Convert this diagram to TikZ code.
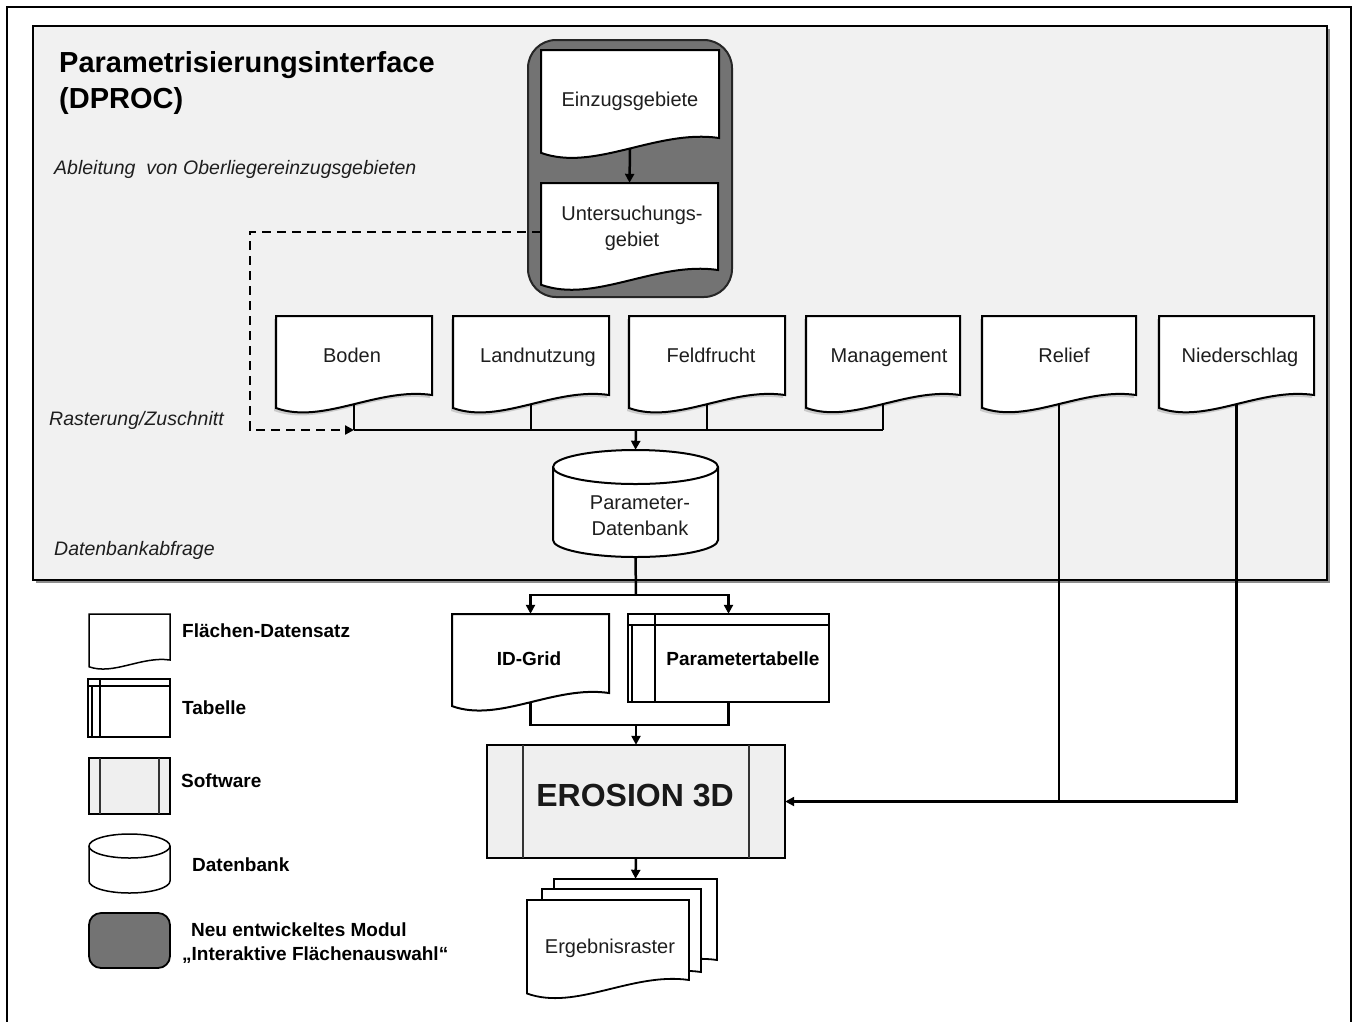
\documentclass[tikz,border=0pt]{standalone}
\usepackage{fontspec}
\setmainfont{Liberation Sans}
\usetikzlibrary{arrows.meta,calc}
\definecolor{panelc}{HTML}{F1F1F1}
\definecolor{modc}{HTML}{737373}
\definecolor{swc}{HTML}{EFEFEF}
\definecolor{txtc}{HTML}{1E1E1E}

% document shape: [opts] x1 x2 ytop yb(right bottom) shadow(0/1)
\newcommand\mydocshape[6][]{%
 \pgfmathsetmacro\dsW{#3-#2}%
 \pgfmathsetmacro\dsS{\dsW/156}%
 \pgfmathsetmacro\dsXa{#2+0.65*\dsW}%
 \pgfmathsetmacro\dsXb{#2+0.30*\dsW}%
 \pgfmathsetmacro\dsYa{#5-8*\dsS}%
 \pgfmathsetmacro\dsYb{#5+30*\dsS}%
 \pgfmathsetmacro\dsYl{#5+13*\dsS}%
 \ifnum#6=1
 \fill[black,opacity=.16,xshift=-2pt,yshift=-3pt] (#2,#4) -- (#3,#4) -- (#3,#5) .. controls (\dsXa,\dsYa) and (\dsXb,\dsYb) .. (#2,\dsYl) -- cycle;
 \fi
 \filldraw[docline,#1] (#2,#4) -- (#3,#4) -- (#3,#5) .. controls (\dsXa,\dsYa) and (\dsXb,\dsYb) .. (#2,\dsYl) -- cycle;
}
% cylinder: [opts] x1 x2 ytop ybot ry
\newcommand\mycylshape[6][]{%
 \pgfmathsetmacro\csM{(#2+#3)/2}%
 \pgfmathsetmacro\csKx{0.5523*(#3-#2)/2}%
 \pgfmathsetmacro\csKy{0.5523*#6}%
 \pgfmathsetmacro\csT{#4+#6}%
 \pgfmathsetmacro\csB{#5-#6}%
 \pgfmathsetmacro\csF{#4+2*#6}%
 \filldraw[docline,#1] (#2,\csT) -- (#2,\csB) .. controls (#2,\csB+\csKy) and (\csM-\csKx,#5) .. (\csM,#5)
   .. controls (\csM+\csKx,#5) and (#3,\csB+\csKy) .. (#3,\csB) -- (#3,\csT)
   .. controls (#3,\csT-\csKy) and (\csM+\csKx,#4) .. (\csM,#4)
   .. controls (\csM-\csKx,#4) and (#2,\csT-\csKy) .. (#2,\csT) -- cycle;
 \draw[docline,fill=none,#1] (#2,\csT) .. controls (#2,\csT+\csKy) and (\csM-\csKx,\csF) .. (\csM,\csF)
   .. controls (\csM+\csKx,\csF) and (#3,\csT+\csKy) .. (#3,\csT);
}
% table: [opts] x1 x2 y1 y2 vx hy
\newcommand\mytabshape[7][]{%
 \filldraw[docline,#1] (#2,#4) rectangle (#3,#5);
 \draw[docline,#1] (#2,#4+#7) -- (#3,#4+#7);
 \draw[docline,#1] (#2+#6,#4) -- (#2+#6,#5);
 \draw[line width=1.2pt] (#2+4,#4+#7) -- (#2+4,#5);
}
% software: [opts] x1 x2 y1 y2 inset
\newcommand\mysoftshape[6][]{%
 \filldraw[docline,fill=swc,#1] (#2,#4) rectangle (#3,#5);
 \draw[line width=1.3pt, draw=black!80] (#2+#6,#4) -- (#2+#6,#5) (#3-#6,#4) -- (#3-#6,#5);
}

\tikzset{
 docline/.style={fill=white, draw=black, line width=2pt},
 txt/.style={font=\fontsize{20}{26}\selectfont, text=txtc, align=center, inner sep=0pt},
 txtone/.style={font=\fontsize{20}{26}\selectfont, text=txtc, inner sep=0pt, text height=14.5pt, text depth=4.2pt},
 btxt/.style={font=\fontsize{19}{23}\selectfont\bfseries, text=black, inner sep=0pt, text height=13.8pt, text depth=4pt},
 box/.style={inner sep=0pt, draw=none},
 conn/.style={draw=black, line width=2.5pt},
 arr/.style={conn, -{Triangle[length=9pt,width=9pt]}},
 dashc/.style={conn, dash pattern=on 9pt off 6pt, -{Triangle[length=9pt,width=9pt]}},
 ital/.style={font=\fontsize{19.5}{23}\selectfont\itshape, text=txtc, inner sep=0pt, anchor=base west},
 lgtxt/.style={btxt, anchor=west},
}

\begin{document}
\begin{tikzpicture}[x=1pt,y=-1pt]
\useasboundingbox (0,0) rectangle (1354,1021);
\fill[white] (0,0) rectangle (1354,1021);
% outer frame
\draw[line width=2.8pt] (7,1030) -- (7,7) -- (1351,7) -- (1351,1030);

% panel
\fill[black!45] (36,29) rectangle (1330,583);
\node[draw=black, line width=2.2pt, fill=panelc, minimum width=1294pt, minimum height=554pt, inner sep=0pt] (panel) at (680,303) {};

\node[font=\fontsize{29}{32}\selectfont\bfseries, inner sep=0pt, anchor=base west] (title1) at (59,72) {Parametrisierungsinterface};
\node[font=\fontsize{29}{32}\selectfont\bfseries, inner sep=0pt, anchor=base west] (title2) at (59,108) {(DPROC)};
\node[ital] (lab1) at (54,174) {Ableitung\ \ von Oberliegereinzugsgebieten};
\node[ital] (lab2) at (49,425) {Rasterung/Zuschnitt};
\node[ital] (lab3) at (54,555) {Datenbankabfrage};

% module
\node[draw=black!85, line width=2pt, fill=modc, rounded corners=28pt, minimum width=204pt, minimum height=257pt, inner sep=0pt] (mod) at (630,168.5) {};
\mydocshape{541}{719}{50}{138}{0}
\node[box, minimum width=178pt, minimum height=88pt] (ein) at (630,94) {};
\node[txtone] (ein-t) at (630,101) {Einzugsgebiete};
\mydocshape{541}{718}{183}{270}{0}
\node[box, minimum width=177pt, minimum height=87pt] (unt) at (629.5,226.5) {};
\node[txt] (unt-t) at (632,228) {Untersuchungs-\\gebiet};

% data row
\mydocshape{276}{432}{316}{395}{1}
\node[box, minimum width=156pt, minimum height=79pt] (boden) at (354,355.5) {};
\node[txtone] (boden-t) at (352,357) {Boden};
\mydocshape{453}{609}{316}{395}{1}
\node[box, minimum width=156pt, minimum height=79pt] (land) at (531,355.5) {};
\node[txtone] (land-t) at (538,357) {Landnutzung};
\mydocshape{629}{785}{316}{395}{1}
\node[box, minimum width=156pt, minimum height=79pt] (feld) at (707,355.5) {};
\node[txtone] (feld-t) at (711,357) {Feldfrucht};
\mydocshape{806}{960}{316}{395}{1}
\node[box, minimum width=154pt, minimum height=79pt] (mgmt) at (883,355.5) {};
\node[txtone] (mgmt-t) at (889,357) {Management};
\mydocshape{982}{1136}{316}{395}{1}
\node[box, minimum width=154pt, minimum height=79pt] (relief) at (1059,355.5) {};
\node[txtone] (relief-t) at (1064,357) {Relief};
\mydocshape{1159}{1314}{316}{395}{1}
\node[box, minimum width=155pt, minimum height=79pt] (nieder) at (1236.5,355.5) {};
\node[txtone] (nieder-t) at (1240,357) {Niederschlag};

% database
\mycylshape{553}{718}{450}{557}{17}
\node[box, minimum width=165pt, minimum height=107pt] (db) at (635.5,503.5) {};
\node[txt] (db-t) at (640,516) {Parameter-\\Datenbank};

% ID-Grid and Parametertabelle
\mydocshape{452}{609}{614}{693}{0}
\node[box, minimum width=157pt, minimum height=79pt] (idg) at (530.5,653.5) {};
\node[btxt] (idg-t) at (529,661) {ID-Grid};
\mytabshape{628}{829}{614}{702}{27}{11}
\node[box, minimum width=201pt, minimum height=88pt] (ptab) at (728.5,658) {};
\node[btxt] (ptab-t) at (743,661) {Parametertabelle};

% EROSION 3D
\mysoftshape[line width=2.2pt]{487}{785}{745}{858}{36}
\node[box, minimum width=298pt, minimum height=113pt] (ero) at (636,801.5) {};
\node[font=\fontsize{32}{36}\selectfont\bfseries, text=black!90, inner sep=0pt] (ero-t) at (635,795) {EROSION 3D};

% Ergebnisraster stack
\mydocshape[line width=1.8pt]{554}{717}{879}{960}{0}
\node[box, minimum width=163pt, minimum height=81pt] (ergb) at (635.5,919.5) {};
\mydocshape[line width=1.8pt]{542}{701}{889}{972}{0}
\node[box, minimum width=159pt, minimum height=83pt] (ergm) at (621.5,930.5) {};
\mydocshape[line width=1.8pt]{527}{689}{900}{980}{0}
\node[box, minimum width=162pt, minimum height=80pt] (ergf) at (608,940) {};
\node[txtone] (erg-t) at (610,948) {Ergebnisraster};

% connectors
\coordinate (bus) at (636,430);
\coordinate (dturn) at (250,232);
\coordinate (split) at (636,595);
\coordinate (merge) at (636,725);
\draw[arr] ($(ein.south)+(0,11)$) -- (unt.north);
\draw[dashc] (unt.west |- dturn) -- (dturn) |- (boden.south |- bus);
\foreach \n in {boden,land,feld,mgmt}{
  \draw[conn] ($(\n.south)+(0,9)$) -- (\n.south |- bus);
}
\draw[conn] (boden.south |- bus) -- (mgmt.south |- bus);
\draw[arr] (bus) -- (db.north);
\draw[conn] (db.south) -- (split);
\draw[arr] (split) -| (idg.north);
\draw[arr] (split) -| (ptab.north);
\draw[conn] ($(idg.south)+(0,9)$) |- (ptab.south |- merge) -- (ptab.south);
\draw[arr] (merge) -- (ero.north);
\draw[arr] (ero.south) -- (ergb.north);
\draw[conn] ($(relief.south)+(0,9)$) -- (relief.south |- ero.east);
\draw[arr] ($(nieder.south)+(0,9)$) |- (ero.east);

% legend
\mydocshape[line width=1.5pt]{89}{170}{614}{660}{0}
\node[box, minimum width=81pt, minimum height=46pt] (lg1) at (129.5,637) {};
\node[lgtxt] (lg1-t) at (182,633) {Flächen-Datensatz};
\mytabshape[line width=2pt]{88}{170}{679}{737}{12}{7}
\node[box, minimum width=82pt, minimum height=58pt] (lg2) at (129,708) {};
\node[lgtxt] (lg2-t) at (182,710) {Tabelle};
\mysoftshape[line width=1.5pt]{89}{170}{758}{814}{11}
\node[box, minimum width=81pt, minimum height=56pt] (lg3) at (129.5,786) {};
\node[lgtxt] (lg3-t) at (181,783) {Software};
\mycylshape[line width=1.5pt]{89}{170}{834}{893}{12}
\node[box, minimum width=81pt, minimum height=59pt] (lg4) at (129.5,863.5) {};
\node[lgtxt] (lg4-t) at (192,867) {Datenbank};
\node[draw=black, line width=1.8pt, fill=modc, rounded corners=12pt, minimum width=81pt, minimum height=55pt, inner sep=0pt] (lg5) at (129.5,940.5) {};
\node[lgtxt] (lg5-t1) at (191,932) {Neu entwickeltes Modul};
\node[lgtxt] (lg5-t2) at (182,956) {„Interaktive Flächenauswahl“};
\end{tikzpicture}
\end{document}
